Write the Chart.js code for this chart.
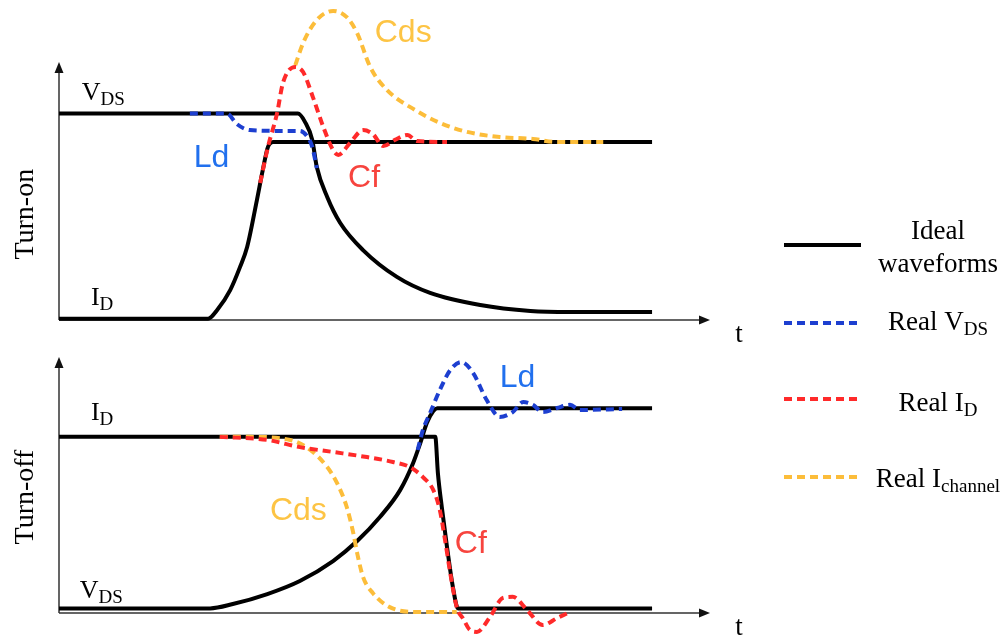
<!DOCTYPE html>
<html>
<head>
<meta charset="utf-8">
<script src="https://cdn.jsdelivr.net/npm/chart.js@4.4.1/dist/chart.umd.min.js"></script>
<style>
  html, body { margin: 0; padding: 0; background: #fff; }
  #wrap { position: relative; width: 1007px; height: 637px; overflow: hidden; }
  canvas { position: absolute; left: 0; }
  #turnOn { top: 0; }
  #turnOff { top: 345px; }
</style>
</head>
<body>
<div id="wrap">
  <canvas id="turnOn" width="1007" height="637"></canvas>
  <canvas id="turnOff" width="1007" height="292"></canvas>
</div>
<script>
// time runs 0..100 on both panels, each vertical axis 0..10 (arbitrary units)

// ---------- turn-on ----------
const onVdsT = [0, 36.7, 37.8, 38.9, 39.6, 41.2, 43.2, 46.7, 51.9, 57.0, 64.7, 72.4, 78.5, 91.1];
const onVdsV = [8.0, 8.0, 7.67, 6.98, 5.93, 4.77, 3.76, 2.71, 1.67, 1.05, 0.58, 0.35, 0.31, 0.31];

const onIdT = [0, 22.9, 24.3, 26.3, 27.8, 28.9, 30.4, 31.3, 32.1, 32.9, 91.1];
const onIdV = [0.05, 0.05, 0.39, 1.16, 2.05, 2.83, 4.65, 5.81, 6.71, 6.9, 6.9];

const onRealVdsT = [20.1, 25.8, 27.3, 29.3, 33.5, 37.0, 38.2, 38.9, 39.6];
const onRealVdsV = [8.0, 8.0, 7.6, 7.36, 7.33, 7.33, 7.09, 6.71, 5.89];

const onRealIdT = [30.9, 32.1, 33.5, 34.4, 36.3, 37.5, 39.0, 40.6, 42.1, 42.9, 44.7, 46.7, 48.2, 49.8, 51.6, 53.5, 55.0, 59.6];
const onRealIdV = [5.31, 6.71, 8.02, 9.19, 9.81, 9.61, 8.64, 7.48, 6.59, 6.40, 6.86, 7.36, 7.21, 6.74, 6.98, 7.17, 6.94, 6.9];

const onChanT = [36.3, 37.5, 39.6, 42.1, 44.2, 45.8, 47.8, 50.4, 54.7, 58.5, 62.7, 67.7, 72.8, 76.2, 83.6];
const onChanV = [9.88, 10.74, 11.63, 11.98, 11.74, 11.12, 9.81, 8.91, 8.14, 7.64, 7.29, 7.09, 7.02, 6.9, 6.9];

// ---------- turn-off ----------
const offIdT = [0, 57.8, 58.2, 58.8, 59.6, 60.5, 61.3, 91.1];
const offIdV = [6.88, 6.88, 5.47, 4.14, 2.58, 1.02, 0.18, 0.18];

const offVdsT = [0, 23.2, 26.7, 32.0, 37.0, 42.1, 45.8, 49.3, 52.4, 54.4, 55.5, 56.5, 57.5, 58.1, 91.1];
const offVdsV = [0.18, 0.18, 0.35, 0.74, 1.25, 2.03, 2.81, 3.75, 4.80, 5.86, 6.64, 7.42, 7.89, 8.0, 8.0];

const offRealVdsT = [55.1, 55.9, 57.0, 58.5, 60.1, 61.8, 63.6, 65.7, 67.7, 69.7, 71.3, 72.8, 74.3, 76.5, 78.5, 80.0, 86.5];
const offRealVdsV = [6.37, 7.15, 7.81, 8.71, 9.49, 9.80, 9.38, 8.32, 7.66, 7.85, 8.24, 8.13, 7.85, 8.01, 8.13, 7.93, 7.97];

const offRealIdT = [24.7, 32.0, 37.0, 42.1, 47.3, 51.3, 53.9, 55.9, 57.5, 58.5, 59.3, 60.1, 61.1, 62.1, 63.1, 64.2, 66.2, 68.2, 69.7, 71.9, 74.3, 76.5, 78.5];
const offRealIdV = [6.88, 6.76, 6.48, 6.29, 6.09, 5.90, 5.70, 5.31, 4.80, 4.02, 2.85, 1.56, 0.23, -0.23, -0.66, -0.74, -0.16, 0.59, 0.63, 0.12, -0.47, -0.20, 0.04];

const offChanT = [24.7, 29.3, 35.5, 38.6, 41.2, 42.7, 44.2, 45.2, 45.8, 46.7, 48.2, 50.8, 55.0, 61.1];
const offChanV = [6.88, 6.88, 6.76, 6.37, 5.70, 5.08, 4.14, 3.13, 2.34, 1.41, 0.78, 0.23, 0.04, 0.04];

// ---------- text ----------
const legendNames = [['Ideal', ''], ['Real V', 'DS'], ['Real I', 'D'], ['Real I', 'channel']];

const BLUE = '#1d3fd0', RED = '#ff2a2a', ORANGE = '#fcbd3a';
const BLUE_TXT = '#2170ee', RED_TXT = '#f7443e', ORANGE_TXT = '#fdc444';
const SERIF = '"Liberation Serif", "Times New Roman", serif';
const SANS = '"Liberation Sans", Arial, sans-serif';

const onLabels = [
  { text: 'V', sub: 'DS', t: 3.5, v: 8.53 },
  { text: 'I', sub: 'D', t: 4.9, v: 0.58 },
  { text: 'Ld', t: 20.7, v: 5.93, color: BLUE_TXT },
  { text: 'Cds', t: 48.5, v: 10.78, color: ORANGE_TXT },
  { text: 'Cf', t: 44.4, v: 5.16, color: RED_TXT }
];
const offLabels = [
  { text: 'I', sub: 'D', t: 4.9, v: 7.54 },
  { text: 'V', sub: 'DS', t: 3.2, v: 0.59 },
  { text: 'Ld', t: 67.7, v: 8.83, color: BLUE_TXT },
  { text: 'Cds', t: 32.4, v: 3.63, color: ORANGE_TXT },
  { text: 'Cf', t: 60.8, v: 2.34, color: RED_TXT }
];

function pts(ts, vs) {
  return ts.map((t, i) => ({ x: t, y: vs[i] }));
}

function ideal(ts, vs) {
  return {
    data: pts(ts, vs), borderColor: '#000', borderWidth: 4,
    pointRadius: 0, cubicInterpolationMode: 'monotone', clip: false, order: 2
  };
}

function real(ts, vs, color) {
  return {
    data: pts(ts, vs), borderColor: color, borderWidth: 4, borderDash: [8, 5],
    pointRadius: 0, cubicInterpolationMode: 'monotone', clip: false, order: 1
  };
}

// main text plus a lowered subscript, left aligned or centred on x
function drawSubText(ctx, x, y, main, sub, size, subSize, centred) {
  ctx.font = size + 'px ' + SERIF;
  const w1 = ctx.measureText(main).width;
  ctx.font = subSize + 'px ' + SERIF;
  const w2 = sub ? ctx.measureText(sub).width : 0;
  const x0 = centred ? x - (w1 + w2) / 2 : x;
  ctx.textAlign = 'left';
  ctx.textBaseline = 'alphabetic';
  ctx.font = size + 'px ' + SERIF;
  ctx.fillText(main, x0, y);
  if (sub) {
    ctx.font = subSize + 'px ' + SERIF;
    ctx.fillText(sub, x0 + w1, y + 5);
  }
}

function arrowHead(ctx, x, y, dir) {
  ctx.beginPath();
  if (dir === 'right') {
    ctx.moveTo(x, y); ctx.lineTo(x - 11, y - 4.5); ctx.lineTo(x - 11, y + 4.5);
  } else {
    ctx.moveTo(x, y); ctx.lineTo(x - 4.5, y + 11); ctx.lineTo(x + 4.5, y + 11);
  }
  ctx.closePath();
  ctx.fill();
}

// axes with arrows, drawn under the waveforms
const axesPlugin = {
  id: 'arrowAxes',
  beforeDatasetsDraw(chart) {
    const ctx = chart.ctx, xs = chart.scales.x, ys = chart.scales.y;
    const ox = xs.getPixelForValue(0), oy = ys.getPixelForValue(0);
    const tx = xs.getPixelForValue(100), ty = ys.getPixelForValue(10);
    ctx.save();
    ctx.strokeStyle = '#333';
    ctx.fillStyle = '#111';
    ctx.lineWidth = 1.5;
    ctx.beginPath();
    ctx.moveTo(ox, oy); ctx.lineTo(tx - 6, oy);
    ctx.moveTo(ox, oy); ctx.lineTo(ox, ty + 6);
    ctx.stroke();
    arrowHead(ctx, tx, oy, 'right');
    arrowHead(ctx, ox, ty, 'up');
    ctx.restore();
  }
};

// panel title, curve labels, the "t" marks and the legend
const notesPlugin = {
  id: 'waveNotes',
  afterDraw(chart, args, opts) {
    const ctx = chart.ctx, xs = chart.scales.x, ys = chart.scales.y;
    const ox = xs.getPixelForValue(0), oy = ys.getPixelForValue(0);
    ctx.save();
    ctx.fillStyle = '#000';

    // rotated panel title
    ctx.save();
    ctx.translate(ox - 26, ys.getPixelForValue(opts.titleAt));
    ctx.rotate(-Math.PI / 2);
    ctx.font = '28px ' + SERIF;
    ctx.textAlign = 'center';
    ctx.textBaseline = 'alphabetic';
    ctx.fillText(opts.title, 0, 0);
    ctx.restore();

    // time mark next to the arrow
    ctx.font = '27px ' + SERIF;
    ctx.textAlign = 'center';
    ctx.fillText('t', xs.getPixelForValue(100) + 29, oy + 22);

    opts.labels.forEach(l => {
      const px = xs.getPixelForValue(l.t), py = ys.getPixelForValue(l.v);
      if (l.color) {
        ctx.fillStyle = l.color;
        ctx.font = '32px ' + SANS;
        ctx.textAlign = 'left';
        ctx.textBaseline = 'alphabetic';
        ctx.fillText(l.text, px, py);
      } else {
        ctx.fillStyle = '#000';
        drawSubText(ctx, px, py, l.text, l.sub, 26, 19, false);
      }
    });

    if (opts.legend) {
      const styles = [
        { color: '#000', dash: [], width: 4 },
        { color: BLUE, dash: [8, 5], width: 4 },
        { color: RED, dash: [8, 5], width: 4 },
        { color: ORANGE, dash: [8, 5], width: 4 }
      ];
      const rows = [245, 323, 399, 477];
      const base = [239, 330, 411, 487];
      legendNames.forEach((n, i) => {
        ctx.save();
        ctx.strokeStyle = styles[i].color;
        ctx.lineWidth = styles[i].width;
        ctx.setLineDash(styles[i].dash);
        ctx.beginPath();
        ctx.moveTo(784, rows[i]);
        ctx.lineTo(861, rows[i]);
        ctx.stroke();
        ctx.restore();
        ctx.fillStyle = '#000';
        drawSubText(ctx, 938, base[i], n[0], n[1], 27, 19, true);
      });
      ctx.font = '27px ' + SERIF;
      ctx.textAlign = 'center';
      ctx.fillText('waveforms', 938, 272);
    }
    ctx.restore();
  }
};

function panelOptions(padding, notes) {
  return {
    responsive: false,
    animation: false,
    layout: { padding: padding },
    scales: {
      x: { type: 'linear', min: 0, max: 100, display: false },
      y: { type: 'linear', min: 0, max: 10, display: false }
    },
    plugins: {
      legend: { display: false },
      tooltip: { enabled: false },
      waveNotes: notes
    }
  };
}

new Chart(document.getElementById('turnOn'), {
  type: 'line',
  data: {
    datasets: [
      real(onRealVdsT, onRealVdsV, BLUE),
      real(onRealIdT, onRealIdV, RED),
      real(onChanT, onChanV, ORANGE),
      ideal(onVdsT, onVdsV),
      ideal(onIdT, onIdV)
    ]
  },
  options: panelOptions({ left: 59, right: 297, top: 62, bottom: 317 },
    { title: 'Turn-on', titleAt: 4.1, labels: onLabels, legend: true }),
  plugins: [axesPlugin, notesPlugin]
});

new Chart(document.getElementById('turnOff'), {
  type: 'line',
  data: {
    datasets: [
      real(offRealVdsT, offRealVdsV, BLUE),
      real(offRealIdT, offRealIdV, RED),
      real(offChanT, offChanV, ORANGE),
      ideal(offIdT, offIdV),
      ideal(offVdsT, offVdsV)
    ]
  },
  options: panelOptions({ left: 59, right: 297, top: 12, bottom: 24 },
    { title: 'Turn-off', titleAt: 4.53, labels: offLabels, legend: false }),
  plugins: [axesPlugin, notesPlugin]
});
</script>
</body>
</html>
